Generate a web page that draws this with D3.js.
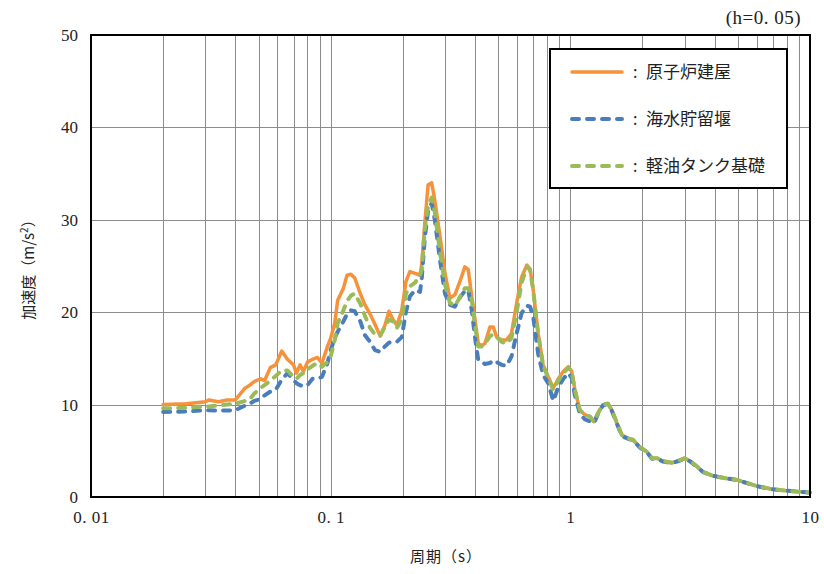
<!DOCTYPE html>
<html>
<head>
<meta charset="utf-8">
<script src="https://cdn.jsdelivr.net/npm/d3@7"></script>
<style>
  html, body { margin: 0; padding: 0; background: #fff; }
  svg { display: block; }
</style>
</head>
<body>
<svg id="chart" width="824" height="574"></svg>
<script>
// ---- data ----
const periods = [0.02,0.025,0.03,0.031,0.034,0.037,0.04,0.044,0.046,0.048,0.051,0.053,0.056,0.059,0.0625,0.066,0.07,0.072,0.0745,0.077,0.08,0.084,0.088,0.092,0.097,0.1,0.104,0.107,0.113,0.117,0.1215,0.126,0.133,0.139,0.146,0.153,0.161,0.1685,0.175,0.182,0.189,0.198,0.206,0.214,0.225,0.236,0.24,0.247,0.255,0.264,0.272,0.286,0.3,0.3145,0.33,0.346,0.363,0.375,0.388,0.4,0.413,0.427,0.44,0.462,0.477,0.493,0.517,0.542,0.568,0.597,0.626,0.659,0.679,0.7,0.734,0.77,0.809,0.849,0.891,0.935,0.981,1.013,1.045,1.096,1.15,1.207,1.255,1.304,1.368,1.435,1.491,1.565,1.642,1.739,1.825,1.952,2.087,2.19,2.3,2.43,2.65,2.87,3.0,3.16,3.38,3.58,3.93,4.5,4.96,5.46,6.18,7.0,8.0,9.07,10];

const reactorBuilding = [10.0,10.1,10.3,10.5,10.3,10.5,10.5,11.8,12.1,12.5,12.8,12.6,14.0,14.3,15.8,14.9,14.3,13.4,14.3,13.6,14.6,14.9,15.1,14.5,16.3,17.2,18.8,21.3,22.6,24.0,24.1,23.7,22.0,20.8,19.8,18.7,17.4,18.6,20.1,19.2,18.6,20.2,23.3,24.4,24.2,24.0,25.3,29.6,33.8,34.0,32.1,28.2,24.2,21.5,21.9,23.3,24.9,24.6,21.7,19.2,16.6,16.4,16.6,18.4,18.4,17.3,17.0,17.0,17.7,21.0,23.8,25.1,24.7,22.4,17.7,14.3,13.0,11.8,12.8,13.6,14.1,13.6,11.6,9.4,8.9,8.7,8.15,9.06,10.0,10.1,9.4,8.0,6.7,6.35,6.2,5.4,4.9,4.2,4.2,3.9,3.7,4.0,4.2,3.9,3.3,2.7,2.3,2.0,1.85,1.5,1.1,0.83,0.68,0.57,0.47];

const seawaterWeir = [9.2,9.25,9.4,9.4,9.35,9.35,9.4,9.9,10.1,10.4,10.6,11.0,11.4,11.6,12.7,13.4,12.7,12.3,12.1,12.0,12.1,12.8,12.8,13.0,14.5,15.9,17.2,17.9,19.0,19.8,20.2,20.1,19.0,17.5,16.8,15.9,15.7,16.3,16.7,16.8,16.8,17.3,20.0,21.7,22.4,22.2,23.7,28.0,31.0,31.8,30.0,25.6,22.0,20.8,20.6,21.6,22.3,22.4,20.2,17.3,14.8,14.6,14.4,14.5,14.8,14.6,14.3,14.2,15.2,17.7,19.9,20.7,20.6,19.5,15.5,13.2,12.3,10.4,11.9,12.8,13.4,12.9,11.0,9.0,8.4,8.2,8.0,9.0,9.9,10.1,9.3,7.9,6.6,6.3,6.15,5.35,4.85,4.15,4.15,3.85,3.65,3.95,4.15,3.85,3.25,2.7,2.3,2.0,1.85,1.5,1.1,0.83,0.68,0.57,0.47];

const oilTankFoundation = [9.6,9.65,9.8,9.8,9.9,10.0,10.1,10.4,10.6,11.2,11.8,12.1,12.6,13.1,13.7,13.7,13.0,12.8,13.2,13.4,13.8,14.2,14.5,14.1,14.6,15.2,17.0,18.8,20.2,21.2,21.8,22.0,20.9,19.6,18.3,17.6,17.5,18.4,19.2,19.0,18.3,19.2,22.0,22.8,23.2,24.0,24.6,29.0,31.5,32.4,30.8,26.5,23.0,21.0,20.7,21.6,22.6,22.6,21.3,18.6,16.3,16.3,16.6,17.4,17.6,17.3,16.8,16.6,17.2,20.0,23.2,24.9,24.6,22.4,17.7,14.2,12.9,11.6,12.6,13.4,14.0,13.6,11.6,9.4,8.9,8.7,8.15,9.06,10.0,10.1,9.4,8.0,6.7,6.35,6.2,5.4,4.9,4.2,4.2,3.9,3.7,4.0,4.2,3.9,3.3,2.7,2.3,2.0,1.85,1.5,1.1,0.83,0.68,0.57,0.47];

const seriesNames = ["原子炉建屋", "海水貯留堰", "軽油タンク基礎"];
const xTickValues = [0.01, 0.1, 1, 10];
const xTickLabels = ["0. 01", "0. 1", "1", "10"];
const yTickValues = [0, 10, 20, 30, 40, 50];
const dampingLabel = "(h=0. 05)";

// ---- layout ----
const svg = d3.select("#chart");
const L = 91, R = 810, T = 35, B = 497;
const x = d3.scaleLog().domain([0.01, 10]).range([L, R]);
const y = d3.scaleLinear().domain([0, 50]).range([B, T]);

const numFont = "'Liberation Serif', 'DejaVu Serif', serif";
const jpFont = "'Noto Sans CJK JP', sans-serif";

// gridlines (vertical, every log minor)
const vGrid = [];
for (let e = -2; e <= 0; e++) {
  for (let m = 1; m <= 9; m++) {
    const v = m * Math.pow(10, e);
    if (v > 0.0101 && v < 9.99) vGrid.push(v);
  }
}
svg.append("g").selectAll("line").data(vGrid).join("line")
  .attr("x1", d => Math.round(x(d)) + 0.5).attr("x2", d => Math.round(x(d)) + 0.5)
  .attr("y1", T).attr("y2", B)
  .attr("stroke", "#8c8c8c").attr("stroke-width", 1);

svg.append("g").selectAll("line").data(yTickValues.filter(v => v > 0 && v < 50)).join("line")
  .attr("x1", L).attr("x2", R)
  .attr("y1", d => Math.round(y(d)) + 0.5).attr("y2", d => Math.round(y(d)) + 0.5)
  .attr("stroke", "#8c8c8c").attr("stroke-width", 1);

// series
const line = d3.line().x(d => x(d[0])).y(d => y(d[1]));
const series = [
  { vals: reactorBuilding, color: "#F7923A", dash: null, width: 3.5 },
  { vals: seawaterWeir, color: "#4A7EBB", dash: "7,8", width: 4 },
  { vals: oilTankFoundation, color: "#9BBB59", dash: "7,8", width: 4 }
];
series.forEach(s => {
  svg.append("path")
    .datum(periods.map((p, i) => [p, s.vals[i]]))
    .attr("d", line)
    .attr("fill", "none")
    .attr("stroke", s.color)
    .attr("stroke-width", s.width)
    .attr("stroke-linejoin", "round")
    .attr("stroke-linecap", "round")
    .attr("stroke-dasharray", s.dash);
});

// frame
svg.append("rect").attr("x", L).attr("y", T).attr("width", R - L).attr("height", B - T)
  .attr("fill", "none").attr("stroke", "#000").attr("stroke-width", 2);

// axis labels
const yAxis = d3.axisLeft(y).tickValues(yTickValues).tickSize(0).tickPadding(13);
const gy = svg.append("g").attr("transform", `translate(${L},0)`).call(yAxis);
gy.select(".domain").remove();
gy.selectAll("text").attr("font-family", numFont).attr("font-size", 17).attr("fill", "#222");

const xAxis = d3.axisBottom(x).tickValues(xTickValues).tickSize(0).tickPadding(14)
  .tickFormat((d, i) => xTickLabels[i]);
const gx = svg.append("g").attr("transform", `translate(0,${B})`).call(xAxis);
gx.select(".domain").remove();
gx.selectAll("text").attr("font-family", numFont).attr("font-size", 17).attr("fill", "#222")
  .style("white-space", "pre").attr("letter-spacing", 0.5);

// axis titles
svg.append("text").attr("x", 446).attr("y", 562).attr("text-anchor", "middle")
  .attr("font-family", jpFont).attr("font-size", 15).attr("fill", "#222")
  .attr("letter-spacing", 1)
  .text("周期（s）");

const yt = svg.append("text").attr("transform", "translate(34,266) rotate(-90)")
  .attr("text-anchor", "middle").attr("font-family", jpFont).attr("font-size", 15).attr("fill", "#222");
yt.append("tspan").text("加速度（m/s");
yt.append("tspan").attr("dy", -6).attr("font-size", 10).text("2");
yt.append("tspan").attr("dy", 6).text("）");

// damping note
svg.append("text").attr("x", 801).attr("y", 24).attr("text-anchor", "end")
  .attr("font-family", numFont).attr("font-size", 19).attr("fill", "#222")
  .attr("letter-spacing", 0.5)
  .style("white-space", "pre")
  .text(dampingLabel);

// legend
const lg = svg.append("g");
lg.append("rect").attr("x", 550).attr("y", 49).attr("width", 237).attr("height", 139)
  .attr("fill", "#fff").attr("stroke", "#000").attr("stroke-width", 2);
const legendY = [72, 119, 166];
series.forEach((s, i) => {
  lg.append("line").attr("x1", 572).attr("x2", 622).attr("y1", legendY[i]).attr("y2", legendY[i])
    .attr("stroke", s.color).attr("stroke-width", s.width)
    .attr("stroke-linecap", "round").attr("stroke-dasharray", s.dash);
  lg.append("text").attr("x", 633).attr("y", legendY[i] + 6)
    .attr("font-family", jpFont).attr("font-size", 16).attr("fill", "#222").text(":");
  lg.append("text").attr("x", 646).attr("y", legendY[i] + 6)
    .attr("font-family", jpFont).attr("font-size", 17).attr("fill", "#222").text(seriesNames[i]);
});
</script>
</body>
</html>
